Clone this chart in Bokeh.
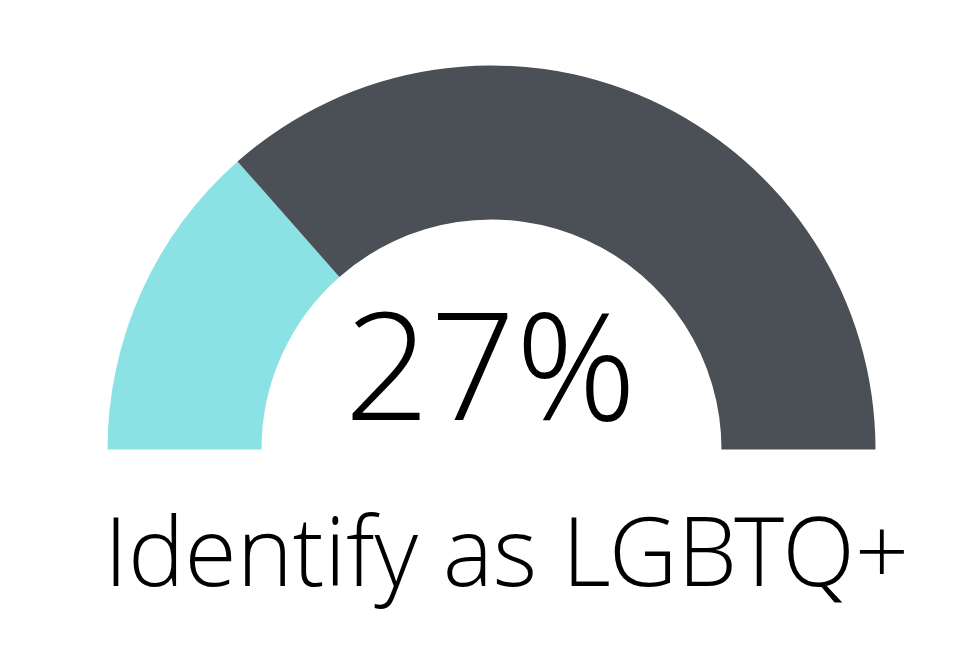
import math

from bokeh.core.properties import value
from bokeh.embed import file_html
from bokeh.models import ColumnDataSource, Range1d
from bokeh.plotting import figure
from bokeh.resources import INLINE

# Share of respondents, in percent
share_pct = 27
label = "Identify as LGBTQ+"
segment_colors = ["#8ae2e5", "#4b4f56"]

W, H = 980, 662
cx, cy = 491, 213
r_outer, r_inner = 384, 230

# Gauge runs from 180 deg (left) to 0 deg (right)
split = math.pi * (1 - share_pct / 100)
src = ColumnDataSource(dict(
    start=[split, 0.0],
    end=[math.pi, split],
    color=segment_colors,
))

p = figure(width=W, height=H, x_range=Range1d(0, W), y_range=Range1d(0, H),
           output_backend="svg", toolbar_location=None, min_border=0)
p.axis.visible = False
p.grid.visible = False
p.outline_line_color = None
p.background_fill_color = "white"
p.border_fill_color = "white"

p.annular_wedge(x=cx, y=cy, inner_radius=r_inner, outer_radius=r_outer,
                start_angle="start", end_angle="end", color="color",
                line_color=None, source=src)

font = value("'Open Sans Light', 'Open Sans'")
p.text(x=[490], y=[301], text=[f"{share_pct}%"], text_font=font,
       text_font_size="150px", text_align="center", text_baseline="alphabetic",
       text_color="black")
p.text(x=[506], y=[114], text=[label], text_font=font,
       text_font_size="95px", text_align="center", text_baseline="alphabetic",
       text_color="black")

open("out.html", "w").write(file_html(p, INLINE))
